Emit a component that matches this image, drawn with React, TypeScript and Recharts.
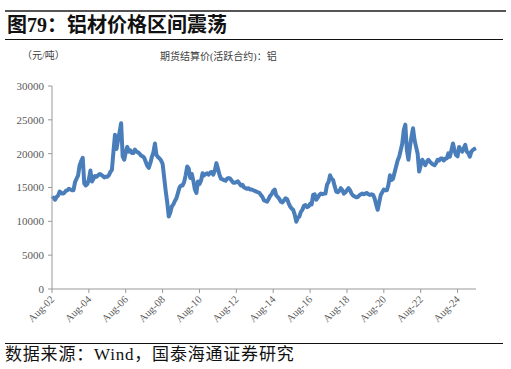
import { LineChart, Line, XAxis, YAxis } from 'recharts'

// monthly settlement price, yuan/ton, Aug-02 .. Aug-25
const p2002 = [13300, 13500, 13200, 13600, 13800]
const p2003 = [14400, 14200, 14100, 14200, 14500, 14600, 14800, 14700, 14600, 14600, 15800, 16300]
const p2004 = [16800, 18300, 18900, 19400, 15600, 15300, 15500, 16200, 17500, 15900, 16300, 16700]
const p2005 = [16600, 16800, 17000, 16900, 16700, 16500, 16600, 16600, 16800, 17300, 17600, 20300]
const p2006 = [22800, 20700, 22000, 23200, 24500, 19600, 19100, 20200, 21000, 20300, 20500, 20100]
const p2007 = [20100, 20600, 20300, 20200, 20000, 19700, 19600, 19400, 18800, 18200, 17900, 18600]
const p2008 = [19500, 20200, 21500, 19800, 19500, 19300, 19000, 18500, 16500, 14500, 12800, 10700]
const p2009 = [11300, 12200, 12500, 13000, 13400, 14200, 15000, 15300, 15300, 15800, 16800, 18100]
const p2010 = [17800, 16400, 17000, 16000, 14700, 14200, 15900, 15500, 16000, 17100, 16800, 17000]
const p2011 = [17100, 16900, 17200, 17300, 16900, 17500, 18600, 17800, 16900, 16300, 16200, 16100]
const p2012 = [16000, 16300, 16400, 16300, 16000, 15700, 15700, 15800, 15900, 15600, 15300, 15400]
const p2013 = [15000, 14900, 14800, 14900, 14700, 14700, 14600, 14500, 14400, 14300, 14200, 13900]
const p2014 = [13600, 13100, 13000, 12900, 13300, 13750, 14000, 14500, 14700, 13800, 13600, 13300]
const p2015 = [12900, 12800, 13100, 13400, 13300, 12700, 12200, 11900, 11700, 11000, 9950, 10500]
const p2016 = [10700, 11400, 11700, 12300, 12400, 12100, 12200, 12600, 12500, 13900, 14000, 13200]
const p2017 = [13500, 13900, 14100, 14000, 14100, 14100, 15400, 15800, 16800, 16300, 16100, 15200]
const p2018 = [14400, 14300, 14500, 14900, 14600, 14100, 14300, 14600, 14900, 14600, 14100, 13800]
const p2019 = [13700, 13550, 13600, 13800, 14000, 14100, 14000, 14100, 14200, 14000, 13900, 14000]
const p2020 = [13900, 13400, 12500, 11700, 12800, 13900, 14300, 14700, 14600, 14600, 15400, 16800]
const p2021 = [16100, 16300, 17200, 18100, 19000, 19550, 20500, 21500, 23500, 24300, 20500, 19100]
const p2022 = [21000, 22500, 23750, 22000, 21000, 20000, 17350, 18300, 19100, 18700, 18300, 18800]
const p2023 = [19100, 18800, 18600, 18400, 18300, 18600, 19100, 19000, 19300, 19300, 19000, 19300]
const p2024 = [19300, 20050, 19550, 20500, 21500, 20500, 19800, 19600, 21000, 20600, 20300, 20800]
const p2025 = [21300, 20300, 20100, 19550, 20300, 20550, 20700, 20800]

const prices = [
  ...p2002, ...p2003, ...p2004, ...p2005, ...p2006, ...p2007, ...p2008, ...p2009,
  ...p2010, ...p2011, ...p2012, ...p2013, ...p2014, ...p2015, ...p2016, ...p2017,
  ...p2018, ...p2019, ...p2020, ...p2021, ...p2022, ...p2023, ...p2024, ...p2025,
]

const MONTHS = ['Jan', 'Feb', 'Mar', 'Apr', 'May', 'Jun', 'Jul', 'Aug', 'Sep', 'Oct', 'Nov', 'Dec']
const yTicks = [0, 5000, 10000, 15000, 20000, 25000, 30000]

const data = prices.map((v, i) => {
  const mIdx = (7 + i) % 12
  const year = 2002 + Math.floor((7 + i) / 12)
  return { date: `${MONTHS[mIdx]}-${String(year % 100).padStart(2, '0')}`, price: v }
})

const SERIF = '"Liberation Serif", "Times New Roman", "Noto Sans CJK SC", serif'
const CJK = '"Liberation Serif", "Noto Sans CJK SC", serif'

function XTick({ x, y, payload }: any) {
  const ax = x + 3
  const ay = y + 7
  return (
    <text
      x={ax} y={ay}
      transform={`rotate(-45 ${ax} ${ay})`}
      textAnchor="end"
      fontSize={10.5}
      fill="#595959"
      fontFamily={SERIF}
    >
      {payload.value}
    </text>
  )
}

export default function App() {
  return (
    <div style={{ position: 'absolute', left: 0, top: 0, width: 511, height: 369, background: '#fff' }}>
      <div style={{ position: 'absolute', left: 5, top: 10, width: 501, height: 2, background: '#555' }} />
      <div
        style={{
          position: 'absolute', left: 7, top: 12, fontSize: 20, fontWeight: 'bold',
          fontFamily: CJK, color: '#111', lineHeight: '26px', whiteSpace: 'nowrap',
        }}
      >
        图79：铝材价格区间震荡
      </div>
      <div style={{ position: 'absolute', left: 5, top: 39, width: 498, height: 1, background: '#111' }} />

      <div style={{ position: 'absolute', left: 22, top: 47, fontSize: 10, fontFamily: CJK, color: '#404040', whiteSpace: 'nowrap' }}>
        （元/吨）
      </div>
      <div style={{ position: 'absolute', left: 160, top: 48, fontSize: 10, fontFamily: CJK, color: '#404040', whiteSpace: 'nowrap' }}>
        期货结算价(活跃合约)：铝
      </div>

      <div style={{ position: 'absolute', left: 0, top: 0 }}>
        <LineChart
          width={511}
          height={369}
          data={data}
          margin={{ top: 86, right: 35, bottom: 40, left: 12 }}
        >
          <XAxis
            dataKey="date"
            interval={23}
            height={40}
            tickSize={4}
            tickMargin={0}
            stroke="#999"
            tick={<XTick />}
          />
          <YAxis
            domain={[0, 30000]}
            ticks={yTicks}
            width={40}
            tickSize={4}
            tickMargin={4}
            stroke="#999"
            tick={{ fill: '#595959', fontSize: 11, fontFamily: SERIF }}
          />
          <Line
            type="linear"
            dataKey="price"
            stroke="#4a7ebb"
            strokeWidth={4}
            strokeLinejoin="round"
            dot={false}
            isAnimationActive={false}
          />
        </LineChart>
      </div>

      <div style={{ position: 'absolute', left: 5, top: 343, width: 498, height: 1, background: '#111' }} />
      <div
        style={{
          position: 'absolute', left: 5, top: 345, fontSize: 17, fontFamily: CJK,
          color: '#111', whiteSpace: 'nowrap', lineHeight: '20px', letterSpacing: 0.8,
        }}
      >
        数据来源：Wind，国泰海通证券研究
      </div>
    </div>
  )
}
